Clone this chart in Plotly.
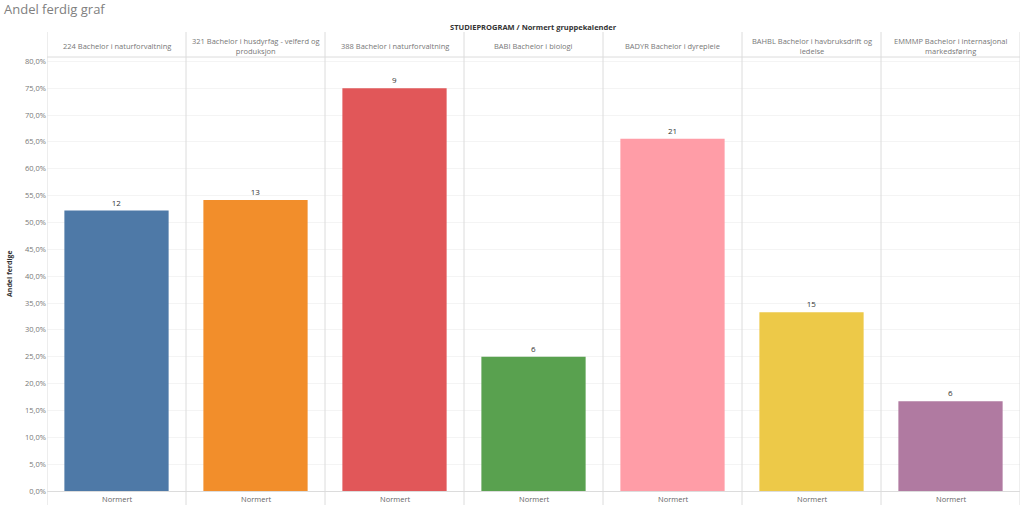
import plotly.graph_objects as go

programs = [
    "224 Bachelor i naturforvaltning",
    "321 Bachelor i husdyrfag - velferd og<br>produksjon",
    "388 Bachelor i naturforvaltning",
    "BABI Bachelor i biologi",
    "BADYR Bachelor i dyrepleie",
    "BAHBL Bachelor i havbruksdrift og<br>ledelse",
    "EMMMP Bachelor i internasjonal<br>markedsføring",
]
share_pct = [52.2, 54.2, 75.0, 25.0, 65.6, 33.3, 16.7]
counts = [12, 13, 9, 6, 21, 15, 6]
colors = ["#4e79a7", "#f28e2b", "#e15759", "#59a14f", "#ff9da7", "#edc948", "#b07aa1"]
tick_label = "Normert"
y_ticks = [i * 5 for i in range(17)]
y_ticktext = [f"{v:.1f}%".replace(".", ",") for v in y_ticks]

FONT = "Open Sans"
T, B, L, R = 57, 14, 47, 4
H_PLOT = 505 - T - B
W_PLOT = 1024 - L - R

fig = go.Figure()
fig.add_trace(go.Bar(
    x=list(range(len(programs))),
    y=share_pct,
    marker=dict(color=colors, line=dict(width=0)),
    text=[str(c) for c in counts],
    textposition="outside",
    textfont=dict(size=8, color="#333333", family=FONT),
    cliponaxis=False,
    width=0.75,
    hoverinfo="skip",
))

# header annotations
for i, p in enumerate(programs):
    fig.add_annotation(x=i, y=1 + 11.5 / H_PLOT, xref="x", yref="paper",
                       text=p, showarrow=False, yanchor="middle",
                       font=dict(size=7.5, color="#777777", family=FONT))
    fig.add_annotation(x=i, y=0, xref="x", yref="paper", yshift=-1,
                       text=tick_label, showarrow=False, yanchor="top",
                       font=dict(size=7.5, color="#666666", family=FONT))

fig.add_annotation(x=0.5, y=1 + 30 / H_PLOT, xref="paper", yref="paper",
                   text="<b>STUDIEPROGRAM / Normert gruppekalender</b>", showarrow=False,
                   yanchor="middle", font=dict(size=7.5, color="#333333", family=FONT))

fig.add_annotation(x=-(L - 2) / W_PLOT, y=1 + (T - 9) / H_PLOT, xref="paper", yref="paper",
                   text="Andel ferdig graf", showarrow=False, xanchor="left",
                   yanchor="middle", font=dict(size=13, color="#808080", family=FONT))

fig.add_annotation(x=-(L - 9) / W_PLOT, y=0.5, xref="paper", yref="paper",
                   text="<b>Andel ferdige</b>", showarrow=False, textangle=-90,
                   xanchor="center", yanchor="middle",
                   font=dict(size=7, color="#333333", family=FONT))

shapes = []
# panel dividers
for i in range(len(programs) + 1):
    shapes.append(dict(type="line", xref="x", yref="paper",
                       x0=i - 0.5, x1=i - 0.5, y0=-B / H_PLOT, y1=1 + 25 / H_PLOT,
                       line=dict(color="#dcdcdc", width=1)))
# header bottom line
shapes.append(dict(type="line", xref="paper", yref="paper", x0=0, x1=1, y0=1, y1=1,
                   line=dict(color="#dcdcdc", width=1)))

fig.update_layout(
    width=1024, height=505,
    margin=dict(l=L, r=R, t=T, b=B, autoexpand=False),
    paper_bgcolor="white", plot_bgcolor="white",
    showlegend=False,
    shapes=shapes,
    font=dict(family=FONT, color="#666666"),
    xaxis=dict(
        range=[-0.5, len(programs) - 0.5],
        showticklabels=False,
        showgrid=False, zeroline=False,
        showline=True, linecolor="#dcdcdc", linewidth=1,
        ticks="", automargin=False,
    ),
    yaxis=dict(
        range=[0, 80.8],
        tickvals=y_ticks,
        ticktext=y_ticktext,
        tickfont=dict(size=7.5, color="#777777", family=FONT),
        showgrid=True, gridcolor="#f4f4f4", gridwidth=1,
        zeroline=False, showline=False, ticks="",
        automargin=False,
    ),
)

fig.write_html("out.html",
               config={"displayModeBar": False},
               post_script="document.body.style.margin='0';document.body.style.overflow='hidden';")
